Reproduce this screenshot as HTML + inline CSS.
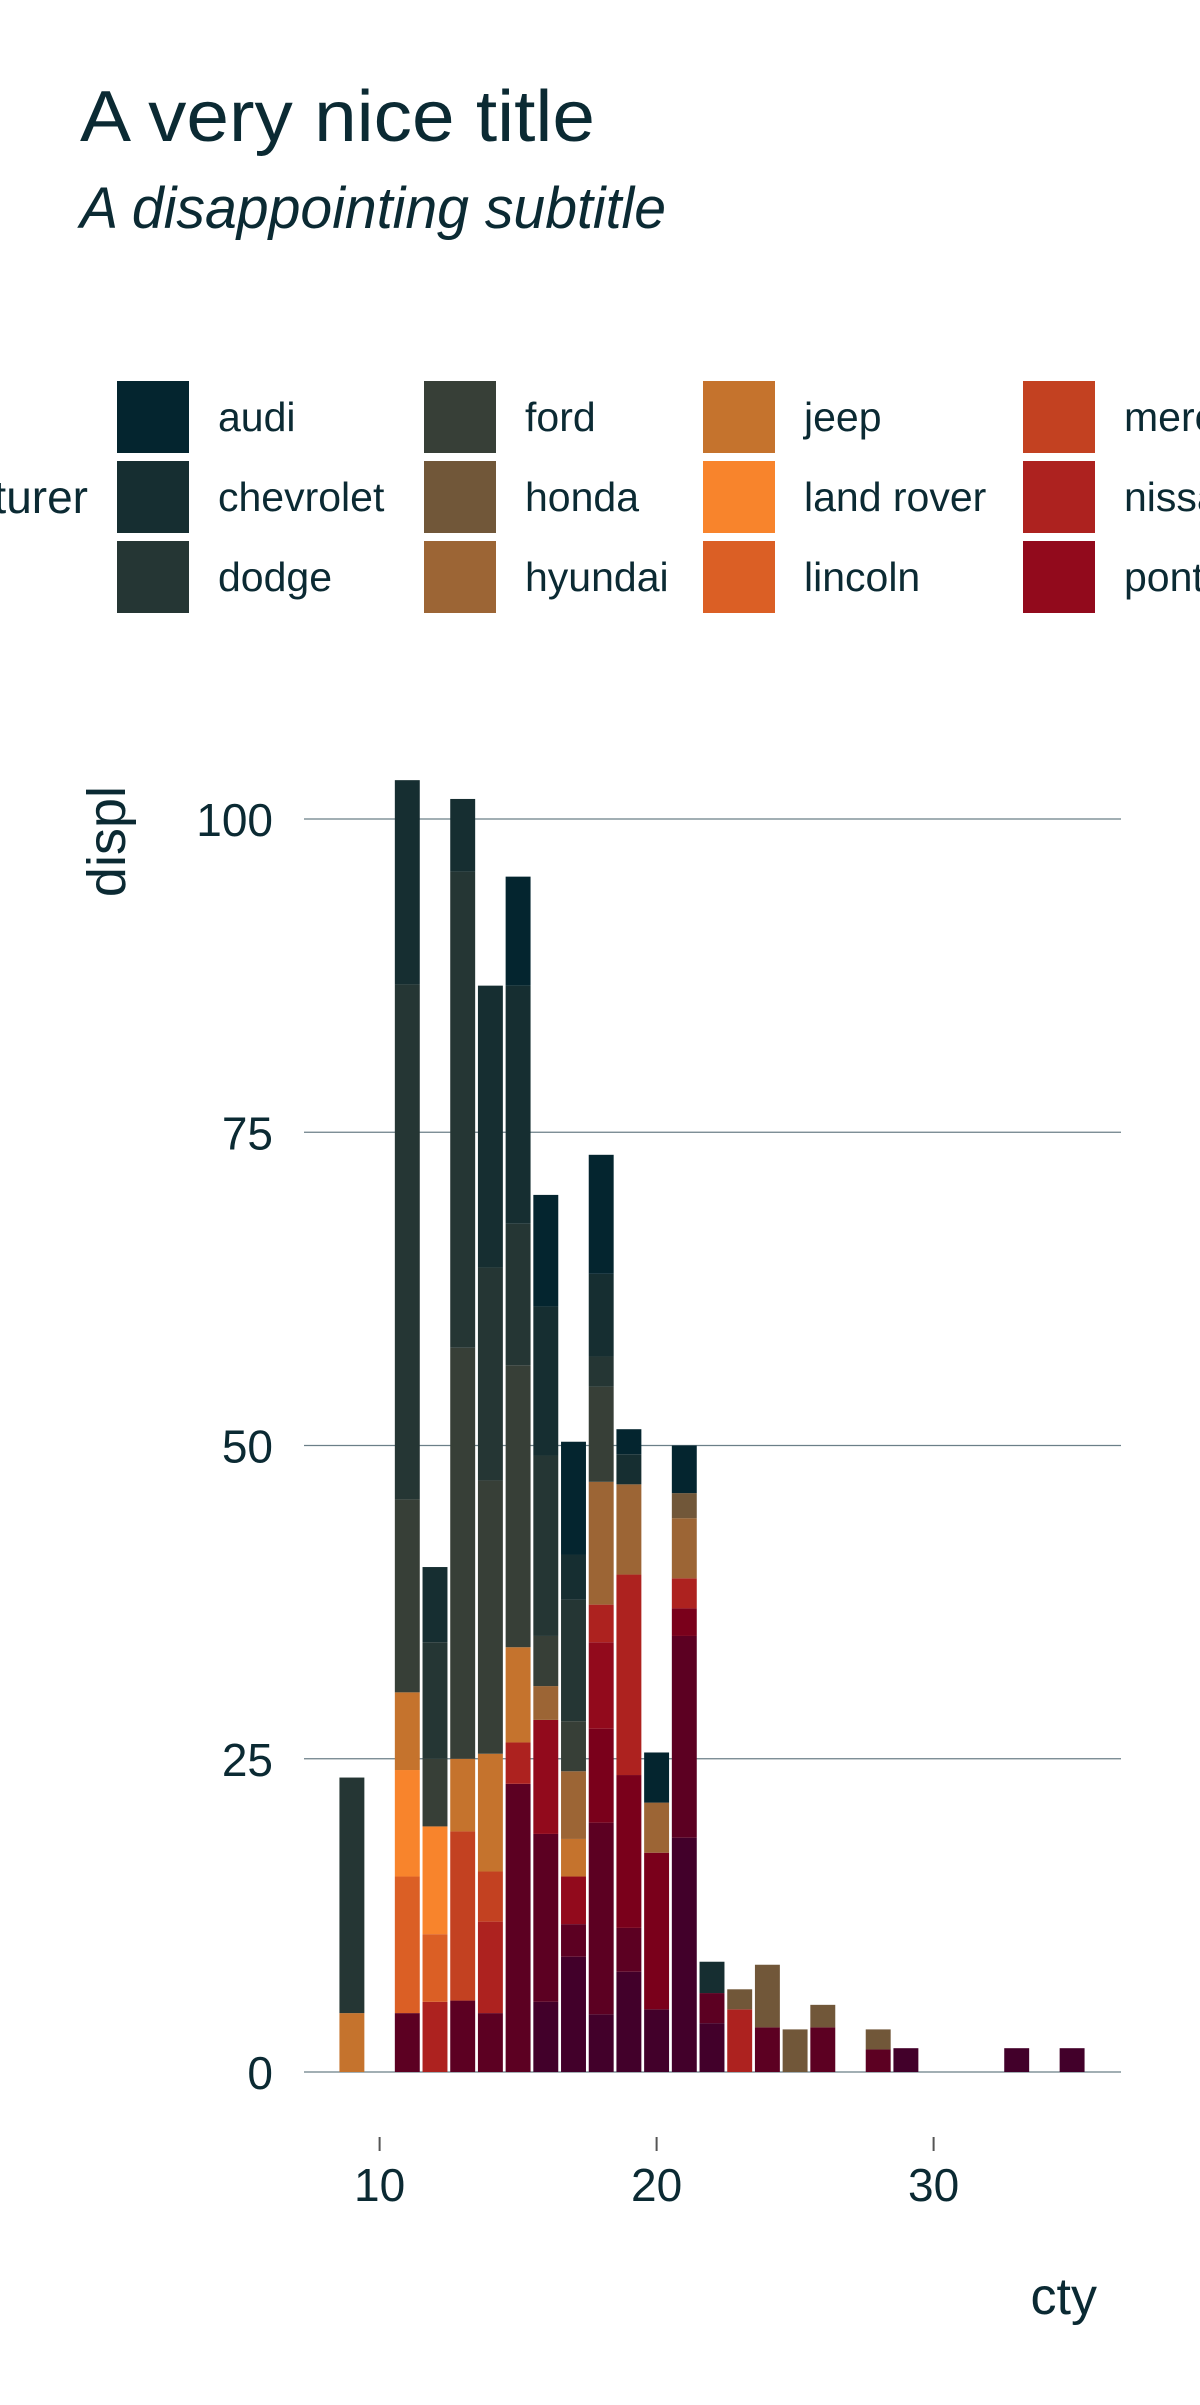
<!DOCTYPE html>
<html><head><meta charset="utf-8"><style>
body{margin:0;background:#fff}
svg text{font-family:"Liberation Sans",sans-serif;fill:#0b2a33}
</style></head><body>
<svg id="chart" width="1200" height="2400" xmlns="http://www.w3.org/2000/svg">
<text x="80" y="141" font-size="72" textLength="515" lengthAdjust="spacingAndGlyphs">A very nice title</text>
<text x="80" y="228" font-size="58" font-style="italic" textLength="586" lengthAdjust="spacingAndGlyphs">A disappointing subtitle</text>
<g id="legend"></g>
<g id="grid"></g>
<g id="bars"></g>
<g id="axes"></g>
<text x="1097" y="2314" font-size="52" text-anchor="end">cty</text>
<text transform="translate(125,786) rotate(-90)" font-size="54" text-anchor="end">displ</text>
</svg>
<script>
const makers = ["audi","chevrolet","dodge","ford","honda","hyundai","jeep","land rover","lincoln","mercury","nissan","pontiac","subaru","toyota","volkswagen"];
const colors = ["#04252f","#162e31","#253634","#373f37","#715739","#9c6535","#c5732d","#f8842c","#db5f25","#c34121","#ad221f","#920a1c","#7a001b","#5c0022","#42002a"];
const ctyValues = [9,11,12,13,14,15,16,17,18,19,20,21,22,23,24,25,26,28,29,33,35];
// each bar: [maker, value] segments
const barSegments = [
 [["jeep",4.7],["dodge",18.8]],
 [["toyota",4.7],["lincoln",10.9],["land rover",8.5],["jeep",6.2],["ford",15.4],["dodge",41.1],["chevrolet",16.3]],
 [["nissan",5.6],["lincoln",5.4],["land rover",8.6],["ford",5.4],["dodge",9.3],["chevrolet",6.0]],
 [["toyota",5.7],["mercury",13.5],["jeep",5.8],["ford",32.8],["dodge",38.0],["chevrolet",5.8]],
 [["toyota",4.7],["nissan",7.3],["mercury",4.0],["jeep",9.4],["ford",21.8],["dodge",17.0],["chevrolet",22.5]],
 [["toyota",23.0],["nissan",3.3],["jeep",7.6],["ford",22.5],["dodge",11.3],["chevrolet",19.0],["audi",8.7]],
 [["volkswagen",5.6],["toyota",13.4],["pontiac",9.1],["hyundai",2.7],["ford",4.0],["dodge",14.4],["chevrolet",11.9],["audi",8.9]],
 [["volkswagen",9.2],["toyota",2.6],["pontiac",3.8],["jeep",3.0],["hyundai",5.4],["ford",4.0],["dodge",9.7],["chevrolet",3.6],["audi",9.0]],
 [["volkswagen",4.6],["toyota",15.3],["subaru",7.5],["pontiac",6.9],["nissan",3.0],["hyundai",9.8],["ford",7.6],["dodge",2.4],["chevrolet",6.6],["audi",9.5]],
 [["volkswagen",8.0],["toyota",3.5],["subaru",12.2],["nissan",16.0],["hyundai",7.2],["chevrolet",2.4],["audi",2.0]],
 [["volkswagen",5.0],["subaru",12.5],["hyundai",4.0],["audi",4.0]],
 [["volkswagen",18.7],["toyota",16.1],["subaru",2.2],["nissan",2.4],["hyundai",4.8],["honda",2.0],["audi",3.8]],
 [["volkswagen",3.9],["toyota",2.4],["chevrolet",2.5]],
 [["nissan",5.0],["honda",1.6]],
 [["toyota",3.56],["honda",5.0]],
 [["honda",3.4]],
 [["toyota",3.56],["honda",1.8]],
 [["toyota",1.8],["honda",1.6]],
 [["volkswagen",1.9]],
 [["volkswagen",1.9]],
 [["volkswagen",1.9]]
];
const yTicks = [0,25,50,75,100];
const xTicks = [10,20,30];

const NS="http://www.w3.org/2000/svg";
function mk(tag,attrs,parent){const e=document.createElementNS(NS,tag);for(const k in attrs)e.setAttribute(k,attrs[k]);parent.appendChild(e);return e;}
const X0=304,X1=1121;
function xScale(v){return 379.6+(v-10)*27.7;}
function yScale(v){return 2072-v*12.53;}

// legend
const leg=document.getElementById('legend');
const t=mk('text',{x:88,y:513,'font-size':46,'text-anchor':'end'},leg);
t.textContent='manufacturer';


const colX=[117,424,703,1023,1330];
makers.forEach((m,i)=>{
  const c=Math.floor(i/3), r=i%3;
  const g=mk('g',{},leg);
  
  
  mk('rect',{x:colX[c],y:381+r*80,width:72,height:72,fill:colors[i]},g);
  const tx=mk('text',{x:colX[c]+101,y:381+r*80+50,'font-size':41},g);
  tx.textContent=m;
});

// grid + y labels
const grid=document.getElementById('grid'), axes=document.getElementById('axes');
yTicks.forEach(v=>{
  const l=mk('line',{x1:X0,x2:X1,y1:yScale(v),y2:yScale(v),stroke:'#6b7f88','stroke-width':1.3},grid);
  
  
  const tx=mk('text',{x:273,y:yScale(v)+17,'font-size':46,'text-anchor':'end'},axes);
  tx.textContent=v;
  
  
});
xTicks.forEach(v=>{
  const l=mk('line',{x1:xScale(v),x2:xScale(v),y1:2137,y2:2151,stroke:'#555','stroke-width':2},axes);
  
  
  const tx=mk('text',{x:xScale(v),y:2201,'font-size':46,'text-anchor':'middle'},axes);
  tx.textContent=v;
  
  
});

// bars
const bars=document.getElementById('bars');
const bw=0.9*27.7;
ctyValues.forEach((cty,i)=>{
  let acc=0;
  barSegments[i].forEach(([m,v])=>{
    const y1=yScale(acc+v), y0=yScale(acc);
    const r=mk('rect',{x:xScale(cty)-bw/2,y:y1,width:bw,height:y0-y1,fill:colors[makers.indexOf(m)]},bars);
    
    
    acc+=v;
  });
});
</script>
</body></html>
